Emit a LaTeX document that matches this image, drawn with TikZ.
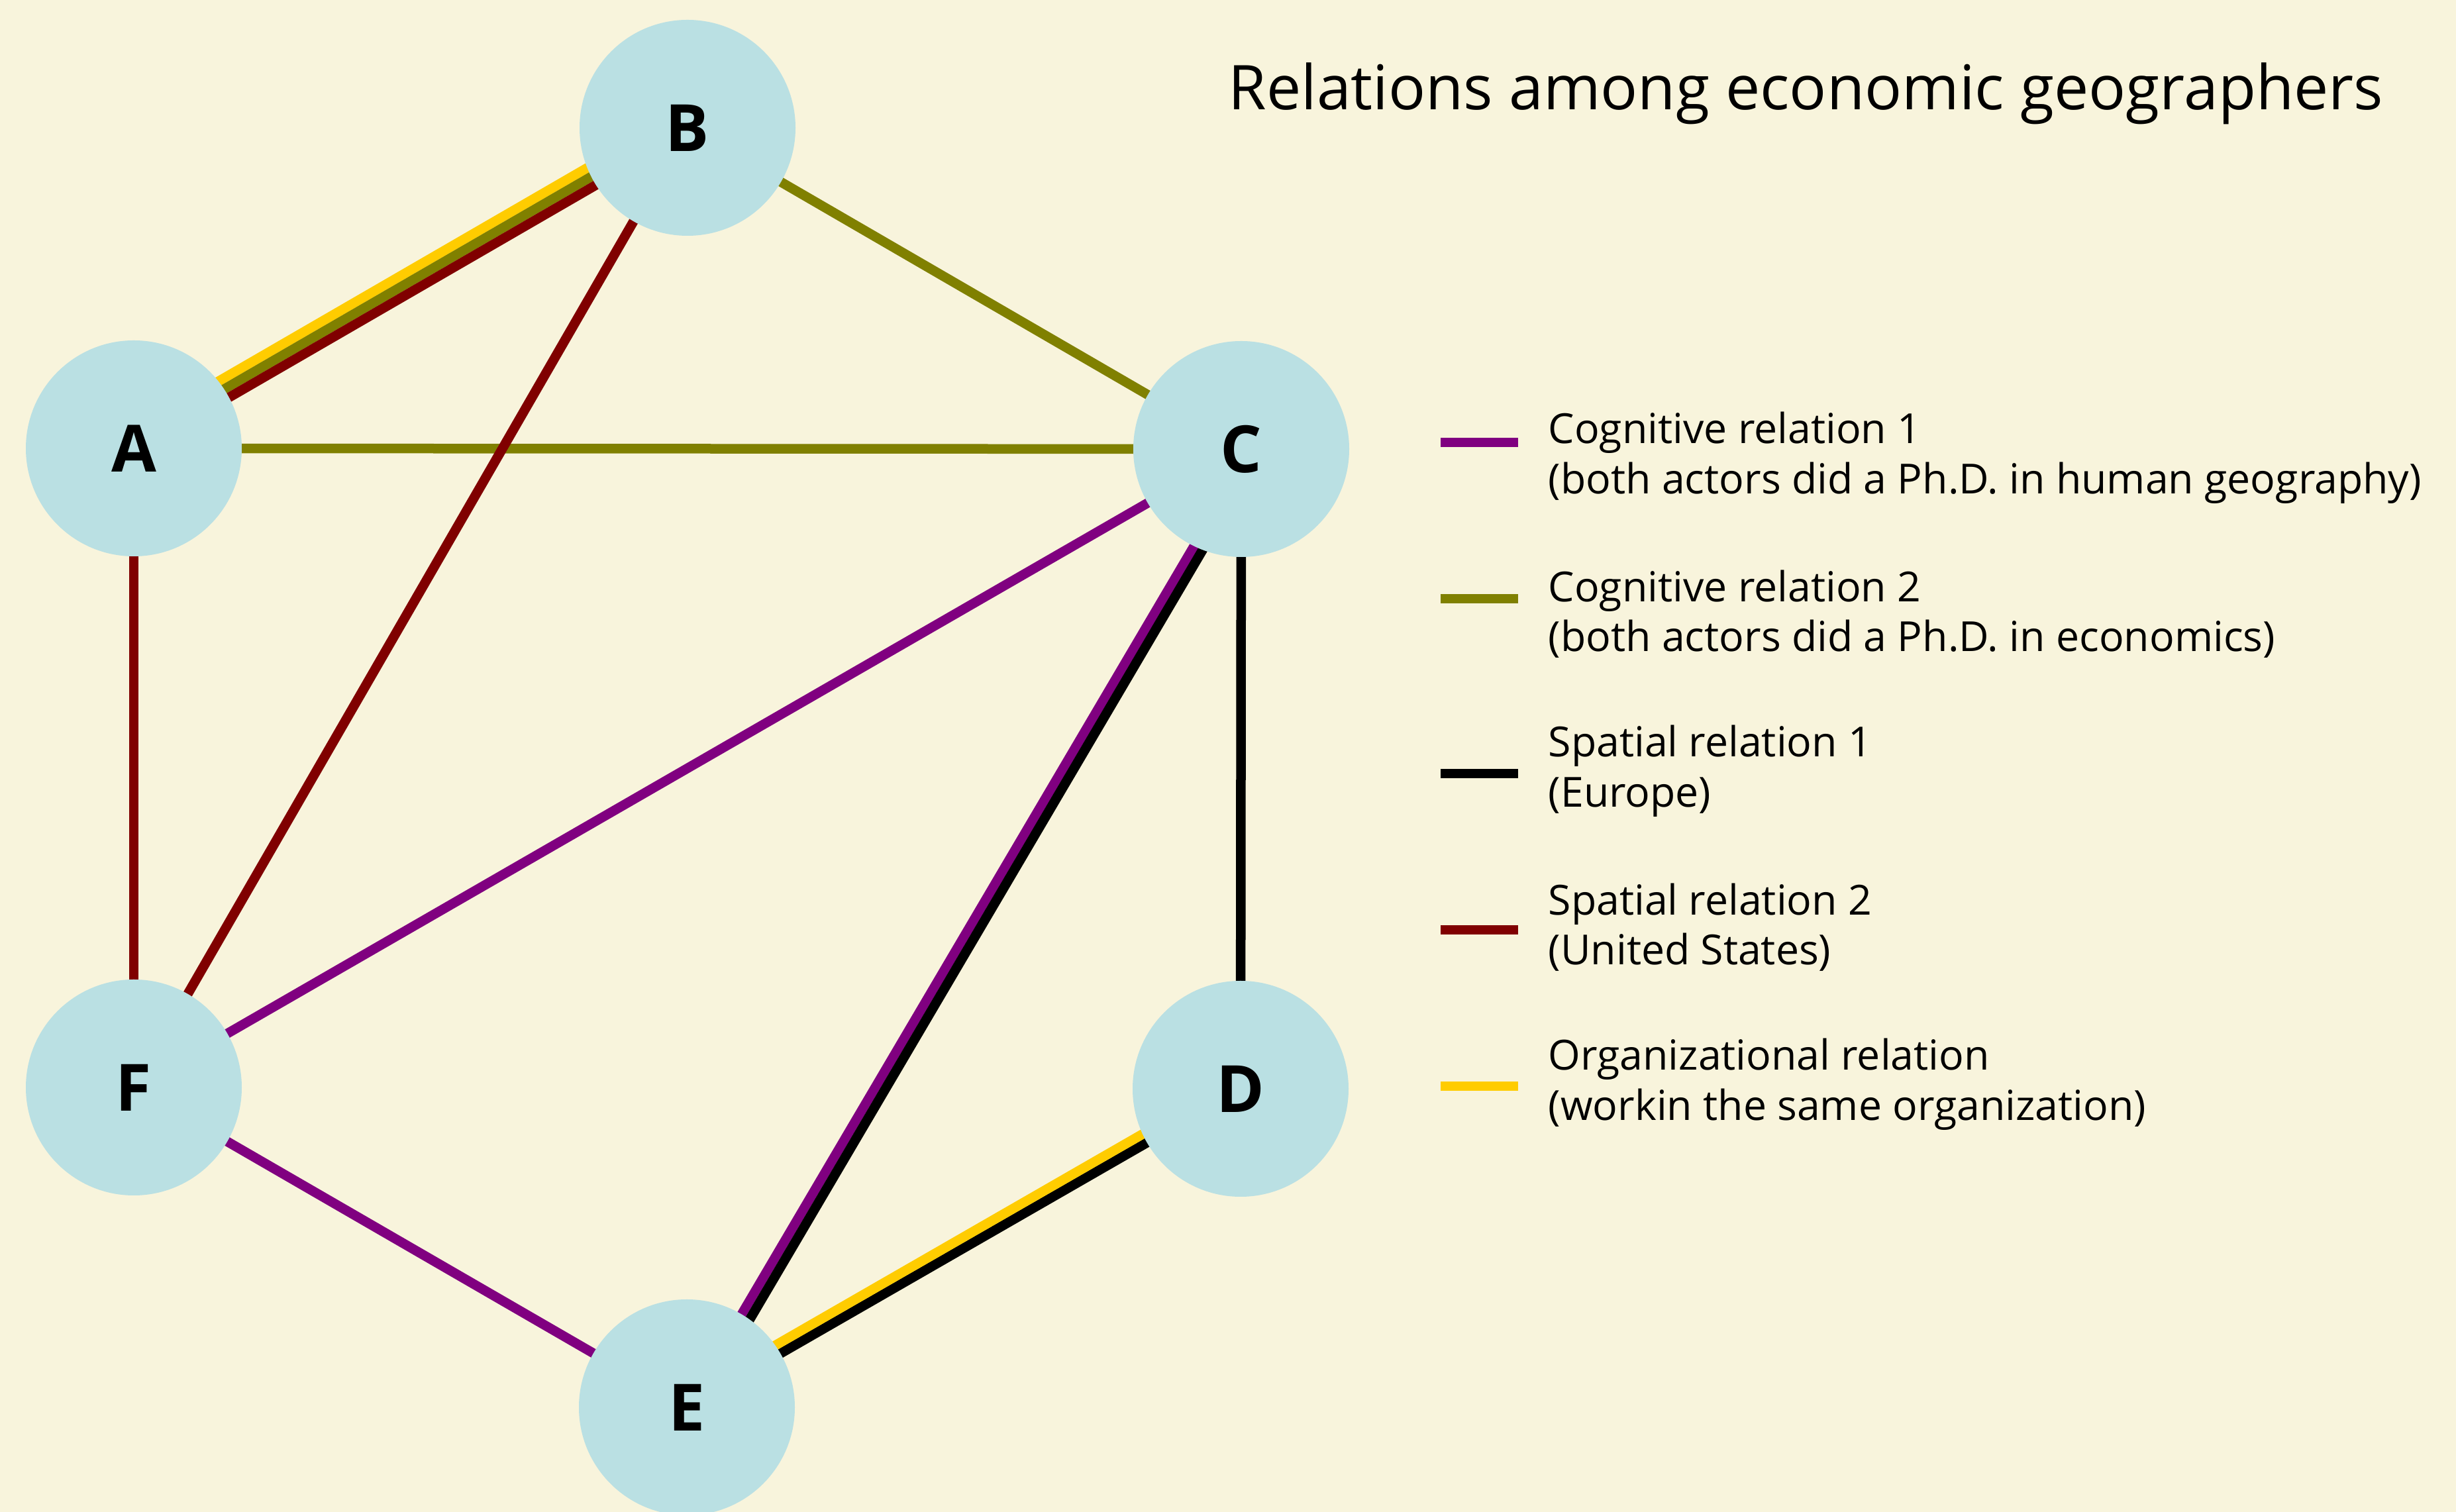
\documentclass[tikz,border=0pt]{standalone}
\usepackage{fontspec}
\setmainfont{Open Sans}
\usepackage{tikz}
\usetikzlibrary{calc}
\definecolor{paper}{HTML}{F8F4DC}
\definecolor{actor}{HTML}{BAE0E3}
\definecolor{cogA}{HTML}{800080}
\definecolor{cogB}{HTML}{808000}
\definecolor{spaA}{HTML}{000000}
\definecolor{spaB}{HTML}{800000}
\definecolor{org}{HTML}{FFCC00}
\pgfdeclarelayer{back}
\pgfdeclarelayer{edges}
\pgfsetlayers{back,edges,main}

\begin{document}
\begin{tikzpicture}[every text node part/.style={align=left},
    actor/.style={circle, fill=actor, minimum size=3.26cm, inner sep=0pt, font=\fontsize{28}{34}\selectfont\bfseries},
    rel/.style={line width=0.145cm},
    legend/.style={anchor=west, inner sep=0pt, font=\fontsize{17.8}{21.5}\selectfont}]
          \useasboundingbox (0,0) rectangle (37.08,22.83);
          \node[actor] at (2.02,16.06) (A) {A};
          \node[actor] at (10.38,20.90) (B) {B};
          \node[actor] at (18.74,16.05) (C) {C};
          \node[actor] at (18.73,6.39) (D) {D};
          \node[actor] at (10.37,1.58) (E) {E};
          \node[actor] at (2.02,6.41) (F) {F};
          \node[anchor=base west, inner sep=0pt, font=\fontsize{26.5}{31}\selectfont] at (18.54,21.17) (title) {Relations among economic geographers};
          \begin{pgfonlayer}{back}
            \fill[paper] (0,0) rectangle (37.08,22.83);
          \end{pgfonlayer}
          \begin{pgfonlayer}{edges}
            \draw[rel, org] ($(A.center)!0.235cm!90:(B.center)$) -- ($(B.center)!0.235cm!-90:(A.center)$);
            \draw[rel, cogB] ($(A.center)!0.09cm!90:(B.center)$) -- ($(B.center)!0.09cm!-90:(A.center)$);
            \draw[rel, spaB] ($(A.center)!0.055cm!-90:(B.center)$) -- ($(B.center)!0.055cm!90:(A.center)$);
            \draw[rel, cogB] (A.center) -- (C.center);
            \draw[rel, cogB] (B.center) -- (C.center);
            \draw[rel, spaB] (B.center) -- (F.center);
            \draw[rel, spaB] (A.center) -- (F.center);
            \draw[rel, cogA] (C.center) -- (F.center);
            \draw[rel, cogA] (F.center) -- (E.center);
            \draw[rel, cogA] ($(C.center)!0.13cm!90:(E.center)$) -- (E.center);
            \draw[rel, spaA] ($(C.center)!0.27cm!90:(E.center)$) -- ($(E.center)!0.145cm!-90:(C.center)$);
            \draw[rel, spaA] (C.center) -- (D.center);
            \draw[rel, spaA] (D.center) -- (E.center);
            \draw[rel, org] ($(E.center)!0.145cm!90:(D.center)$) -- ($(D.center)!0.145cm!-90:(E.center)$);
          \end{pgfonlayer}
          \node[legend] at (23.37,15.92) (l1) {Cognitive relation 1\\(both actors did a Ph.D. in human geography)};
          \node[legend] at (23.37,13.56) (l2) {Cognitive relation 2\\(both actors did a Ph.D. in economics)};
          \node[legend] at (23.37,11.19) (l3) {Spatial relation 1\\(Europe)};
          \node[legend] at (23.37,8.83) (l4) {Spatial relation 2\\(United States)};
          \node[legend] at (23.37,6.46) (l5) {Organizational relation\\(workin the same organization)};
          \draw[rel, cogA] (21.75,16.15) -- (22.92,16.15);
          \draw[rel, cogB] (21.75,13.79) -- (22.92,13.79);
          \draw[rel, spaA] (21.75,11.15) -- (22.92,11.15);
          \draw[rel, spaB] (21.75,8.79) -- (22.92,8.79);
          \draw[rel, org] (21.75,6.43) -- (22.92,6.43);
\end{tikzpicture}
\end{document}
